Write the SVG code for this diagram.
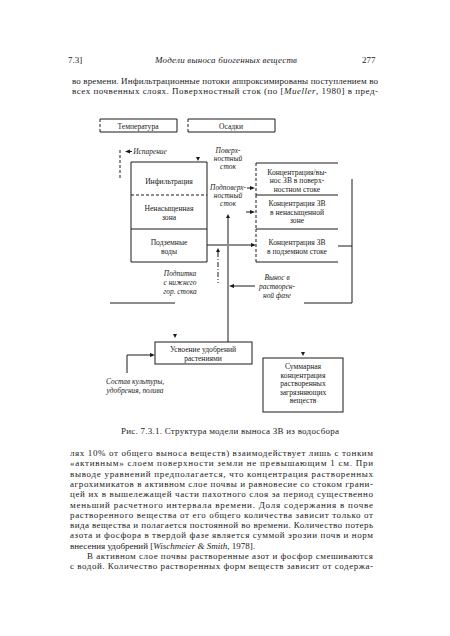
<svg xmlns="http://www.w3.org/2000/svg" width="450" height="636" viewBox="0 0 450 636">
<style>
.t{font-family:"Liberation Serif","Times New Roman",serif;font-size:9px;fill:#1a1a1a}
.b{font-family:"Liberation Serif","Times New Roman",serif;font-size:7.6px;fill:#1a1a1a;text-anchor:middle}
.i{font-family:"Liberation Serif","Times New Roman",serif;font-size:7.4px;font-style:italic;fill:#1a1a1a;text-anchor:middle}
.it{font-style:italic}
.s{fill:none;stroke:#1a1a1a;stroke-width:1}
.d{fill:none;stroke:#1a1a1a;stroke-width:1;stroke-dasharray:3,2}
.dd{fill:none;stroke:#1a1a1a;stroke-width:1;stroke-dasharray:5,2,1,2}
.a{fill:#1a1a1a}
</style>
<rect width="450" height="636" fill="#fff"/>

<!-- page header and text -->
<g id="page-header">
<text class="t" x="68" y="63">7.3]</text>
<text class="t it" x="155" y="63" textLength="142" lengthAdjust="spacing">Модели выноса биогенных веществ</text>
<text class="t" x="362" y="63">277</text>
</g>
<g id="text-top">
<text class="t" x="72" y="83.5" textLength="306" lengthAdjust="spacing">во времени. Инфильтрационные потоки аппроксимированы поступлением во</text>
<text class="t" x="72" y="93.5" textLength="306" lengthAdjust="spacing">всех почвенных слоях. Поверхностный сток (по [<tspan class="it">Mueller</tspan>, 1980] в пред-</text>
</g>

<!-- nodes -->
<g id="temperature">
<path class="s" d="M100,119 H177 V132 H100"/>
<line class="d" x1="100" y1="119" x2="100" y2="132"/>
<text class="b" x="138" y="128.5">Температура</text>
</g>
<g id="precipitation">
<path class="s" d="M188,119 H275 V132 H188"/>
<line class="d" x1="188" y1="119" x2="188" y2="132"/>
<text class="b" x="231" y="128.5">Осадки</text>
</g>

<g id="infiltration">
<path class="s" d="M131,195 V162 H207 V195"/>
<line class="d" x1="131" y1="195" x2="207" y2="195"/>
<text class="b" x="169" y="184">Инфильтрация</text>
</g>
<g id="unsaturated-zone">
<path class="s" d="M131,195 V229 H207 V195"/>
<text class="b" x="169" y="211">Ненасыщенная</text>
<text class="b" x="169" y="220">зона</text>
</g>
<g id="groundwater">
<path class="s" d="M131,229 V262 H207 V229"/>
<text class="b" x="169" y="245">Подземные</text>
<text class="b" x="169" y="254">воды</text>
</g>

<g id="conc-surface">
<path class="s" d="M256,163 H338"/>
<line class="d" x1="256" y1="163" x2="256" y2="195"/>
<text class="b" x="297" y="174.5">Концентрация/вы-</text>
<text class="b" x="297" y="183">нос ЗВ в поверх-</text>
<text class="b" x="297" y="191.5">ностном стоке</text>
</g>
<g id="conc-unsat">
<path class="s" d="M256,195 H338"/>
<line class="d" x1="256" y1="195" x2="256" y2="229"/>
<text class="b" x="297" y="206">Концентрация ЗВ</text>
<text class="b" x="297" y="214.5">в ненасыщенной</text>
<text class="b" x="297" y="223">зоне</text>
</g>
<g id="conc-ground">
<path class="s" d="M256,229 H338 M256,262 H338"/>
<line class="d" x1="256" y1="229" x2="256" y2="262"/>
<text class="b" x="297" y="245">Концентрация ЗВ</text>
<text class="b" x="297" y="254">в подземном стоке</text>
</g>

<g id="uptake">
<rect class="s" x="155" y="342" width="97" height="22"/>
<text class="b" x="203" y="352">Усвоение удобрений</text>
<text class="b" x="203" y="360.5">растениями</text>
</g>
<g id="total">
<rect class="s" x="263" y="358" width="80" height="54"/>
<text class="b" x="303" y="369">Суммарная</text>
<text class="b" x="303" y="377.5">концентрация</text>
<text class="b" x="303" y="386">растворенных</text>
<text class="b" x="303" y="394.5">загрязняющих</text>
<text class="b" x="303" y="403">веществ</text>
</g>

<!-- connectors -->
<g id="connectors">
<line class="d" x1="120" y1="150" x2="120" y2="178"/>
<polygon class="a" points="125,151.5 130,149.5 130,153.5"/>
<line class="s" x1="130" y1="151.5" x2="132" y2="151.5"/>
<polygon class="a" points="198,161 196,157 200,157"/>
<line class="s" x1="247" y1="188" x2="252" y2="188"/>
<polygon class="a" points="255,188 250,186 250,190"/>
<line class="s" x1="246" y1="212" x2="251" y2="212"/>
<polygon class="a" points="255,212 250,210 250,214"/>
<line class="s" x1="207" y1="245" x2="251" y2="245"/>
<polygon class="a" points="256,245 251,243 251,247"/>
<polygon class="a" points="228,214 226,218 230,218"/>
<path class="s" d="M228,218 V241 M228,249 V342"/>
<path class="d" d="M228,241 V249"/>
<polygon class="a" points="218,248 216,252 220,252"/>
<line class="dd" x1="218" y1="252" x2="218" y2="283"/>
<polygon class="a" points="229,286 234,284 234,288"/>
<line class="s" x1="234" y1="286" x2="255" y2="286"/>
<path class="s" d="M338,246 H352 M352,179 V303 H304"/>
<line class="s" x1="110" y1="303" x2="175" y2="303"/>
<polygon class="a" points="175,338 173,334 177,334"/>
<path class="s" d="M127,373 V355 H151"/>
<polygon class="a" points="155,355 150,353 150,357"/>
<polygon class="a" points="303,356 301,352 305,352"/>
</g>

<g id="labels">
<text class="i" x="150" y="154">Испарение</text>
<text class="i" x="228" y="152.5">Поверх-</text>
<text class="i" x="228" y="160.5">ностный</text>
<text class="i" x="228" y="168.5">сток</text>
<text class="i" x="228" y="189.5">Подповерх-</text>
<text class="i" x="228" y="197.5">ностный</text>
<text class="i" x="228" y="206">сток</text>
<text class="i" x="180" y="276">Подпитка</text>
<text class="i" x="180" y="285">с нижнего</text>
<text class="i" x="180" y="294">гор. стока</text>
<text class="i" x="277" y="280">Вынос в</text>
<text class="i" x="277" y="289">растворен-</text>
<text class="i" x="277" y="298">ной фазе</text>
<text class="i" x="135" y="384">Состав культуры,</text>
<text class="i" x="135" y="393">удобрения, полива</text>
</g>

<g id="caption">
<text class="t" x="121" y="434" textLength="218" lengthAdjust="spacing">Рис. 7.3.1. Структура модели выноса ЗВ из водосбора</text>
</g>

<g id="text-bottom">
<text class="t" x="70" y="456" textLength="303" lengthAdjust="spacing">лях 10% от общего выноса веществ) взаимодействует лишь с тонким</text>
<text class="t" x="70" y="466.3" textLength="303" lengthAdjust="spacing">«активным» слоем поверхности земли не превышающим 1 см. При</text>
<text class="t" x="70" y="476.6" textLength="303" lengthAdjust="spacing">выводе уравнений предполагается, что концентрация растворенных</text>
<text class="t" x="70" y="486.9" textLength="303" lengthAdjust="spacing">агрохимикатов в активном слое почвы и равновесие со стоком грани-</text>
<text class="t" x="70" y="497.2" textLength="303" lengthAdjust="spacing">цей их в вышележащей части пахотного слоя за период существенно</text>
<text class="t" x="70" y="507.5" textLength="303" lengthAdjust="spacing">меньший расчетного интервала времени. Доля содержания в почве</text>
<text class="t" x="70" y="517.8" textLength="303" lengthAdjust="spacing">растворенного вещества от его общего количества зависит только от</text>
<text class="t" x="70" y="528.1" textLength="303" lengthAdjust="spacing">вида вещества и полагается постоянной во времени. Количество потерь</text>
<text class="t" x="70" y="538.4" textLength="303" lengthAdjust="spacing">азота и фосфора в твердой фазе является суммой эрозии почв и норм</text>
<text class="t" x="70" y="548.7">внесения удобрений [<tspan class="it">Wischmeier &amp; Smith</tspan>, 1978].</text>
<text class="t" x="87" y="559" textLength="286" lengthAdjust="spacing">В активном слое почвы растворенные азот и фосфор смешиваются</text>
<text class="t" x="70" y="569.3" textLength="303" lengthAdjust="spacing">с водой. Количество растворенных форм веществ зависит от содержа-</text>
</g>
</svg>
